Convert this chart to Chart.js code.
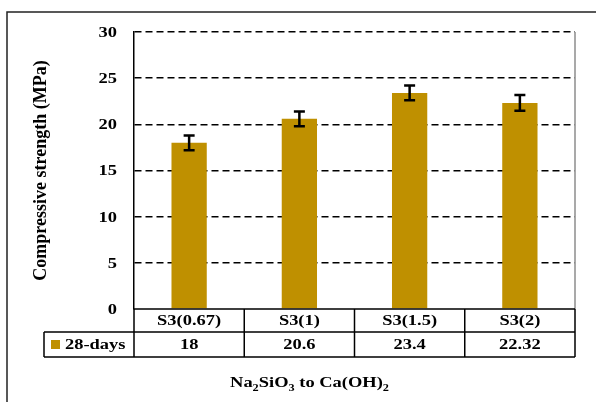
<!DOCTYPE html>
<html>
<head>
<meta charset="utf-8">
<script src="https://cdn.jsdelivr.net/npm/chart.js@4"></script>
<style>
  html, body { margin: 0; padding: 0; background: #fff; }
  #wrap { width: 596px; height: 402px; }
</style>
</head>
<body>
<div id="wrap"><canvas id="grafico" width="596" height="402"></canvas></div>
<script>
// dados
const categorias = ['S3(0.67)', 'S3(1)', 'S3(1.5)', 'S3(2)'];
const resistencia = [18, 20.6, 23.4, 22.32];
const desvios = [0.8, 0.8, 0.8, 0.85];
const rotuloSerie = '28-days';
const eixoY = { min: 0, max: 30, passo: 5 };

const OURO = '#BF9000';
const FONTE = "'Liberation Serif', 'Times New Roman', serif";
const ESTICA = 1.23; // o texto do original aparece esticado na horizontal

function texto(ctx, s, x, y, align) {
  ctx.save();
  ctx.translate(x, y);
  ctx.scale(ESTICA, 1);
  ctx.textAlign = align || 'center';
  ctx.fillText(s, 0, 0);
  ctx.restore();
}

const tabelaPlugin = {
  id: 'tabela',
  afterDatasetsDraw: function (chart) {
    const ctx = chart.ctx;
    const meta = chart.getDatasetMeta(0);
    const y = chart.scales.y;
    ctx.save();
    ctx.strokeStyle = '#000';
    ctx.lineWidth = 2.5;
    meta.data.forEach(function (bar, i) {
      const v = resistencia[i], d = desvios[i];
      const yA = y.getPixelForValue(v + d), yB = y.getPixelForValue(v - d);
      ctx.beginPath();
      ctx.moveTo(bar.x, yA); ctx.lineTo(bar.x, yB);
      ctx.moveTo(bar.x - 5.5, yA); ctx.lineTo(bar.x + 5.5, yA);
      ctx.moveTo(bar.x - 5.5, yB); ctx.lineTo(bar.x + 5.5, yB);
      ctx.stroke();
    });
    ctx.restore();
  },
  afterDraw: function (chart) {
    const ctx = chart.ctx;
    const area = chart.chartArea;
    const escalaY = chart.scales.y;
    const n = categorias.length;
    const colW = (area.right - area.left) / n;
    const r1 = area.bottom, r2 = r1 + 23, r3 = r2 + 25;
    const xLeg = 44;
    ctx.save();

    // moldura externa
    ctx.strokeStyle = '#222';
    ctx.lineWidth = 1.5;
    ctx.strokeRect(7, 12, 620, 420);

    // borda direita da área de plotagem
    ctx.strokeStyle = '#8c8c8c';
    ctx.beginPath();
    ctx.moveTo(area.right, area.top); ctx.lineTo(area.right, area.bottom);
    ctx.stroke();

    // rótulos do eixo Y
    ctx.fillStyle = '#000';
    ctx.textBaseline = 'middle';
    ctx.font = 'bold 15px ' + FONTE;
    escalaY.ticks.forEach(function (t) {
      texto(ctx, String(t.value), 117, escalaY.getPixelForValue(t.value) + 1, 'right');
    });

    // linhas da tabela
    ctx.strokeStyle = '#000';
    ctx.lineWidth = 1.5;
    ctx.beginPath();
    ctx.moveTo(area.left, r1); ctx.lineTo(area.right, r1);
    ctx.moveTo(xLeg, r2); ctx.lineTo(area.right, r2);
    ctx.moveTo(xLeg, r3); ctx.lineTo(area.right, r3);
    ctx.moveTo(xLeg, r2); ctx.lineTo(xLeg, r3);
    for (let i = 0; i <= n; i++) {
      const x = area.left + i * colW;
      ctx.moveTo(x, r1); ctx.lineTo(x, r3);
    }
    ctx.stroke();

    // textos da tabela
    categorias.forEach(function (c, i) {
      const cx = area.left + (i + 0.5) * colW;
      texto(ctx, c, cx, (r1 + r2) / 2 + 1);
      texto(ctx, String(resistencia[i]), cx, (r2 + r3) / 2 + 1);
    });

    // legenda da série
    ctx.fillStyle = OURO;
    ctx.fillRect(51, r2 + 8, 9, 9);
    ctx.fillStyle = '#000';
    texto(ctx, rotuloSerie, 65, (r2 + r3) / 2 + 1, 'left');

    // título do eixo Y
    ctx.save();
    ctx.translate(41, (area.top + area.bottom) / 2);
    ctx.rotate(-Math.PI / 2);
    ctx.textAlign = 'center';
    ctx.font = 'bold 18px ' + FONTE;
    ctx.fillText('Compressive strength (MPa)', 0, 0);
    ctx.restore();

    // título do eixo X com subscritos
    const partes = [['Na', 0], ['2', 1], ['SiO', 0], ['3', 1], [' to Ca(OH)', 0], ['2', 1]];
    const fN = 'bold 15px ' + FONTE, fS = 'bold 10px ' + FONTE;
    let total = 0;
    partes.forEach(function (p) { ctx.font = p[1] ? fS : fN; total += ctx.measureText(p[0]).width * ESTICA; });
    let x = (xLeg + area.right) / 2 - total / 2;
    ctx.textBaseline = 'alphabetic';
    partes.forEach(function (p) {
      ctx.font = p[1] ? fS : fN;
      texto(ctx, p[0], x, 387 + (p[1] ? 4 : 0), 'left');
      x += ctx.measureText(p[0]).width * ESTICA;
    });
    ctx.restore();
  }
};

new Chart(document.getElementById('grafico'), {
  type: 'bar',
  data: {
    labels: categorias,
    datasets: [{
      label: rotuloSerie,
      data: resistencia,
      backgroundColor: OURO,
      barPercentage: 0.32,
      categoryPercentage: 1
    }]
  },
  options: {
    responsive: false,
    animation: false,
    layout: { padding: { left: 0, top: 32, right: 21, bottom: 93 } },
    plugins: { legend: { display: false }, tooltip: { enabled: false } },
    scales: {
      x: { display: false },
      y: {
        min: eixoY.min, max: eixoY.max,
        afterFit: function (scale) { scale.width = 134; },
        ticks: { stepSize: eixoY.passo, display: false },
        grid: {
          drawTicks: false, lineWidth: 1.6,
          color: function (c) { return c.tick && c.tick.value === 0 ? 'rgba(0,0,0,0)' : '#000'; }
        },
        border: { display: true, color: '#000', width: 1.5, dash: [7, 4] }
      }
    }
  },
  plugins: [tabelaPlugin]
});
</script>
</body>
</html>
